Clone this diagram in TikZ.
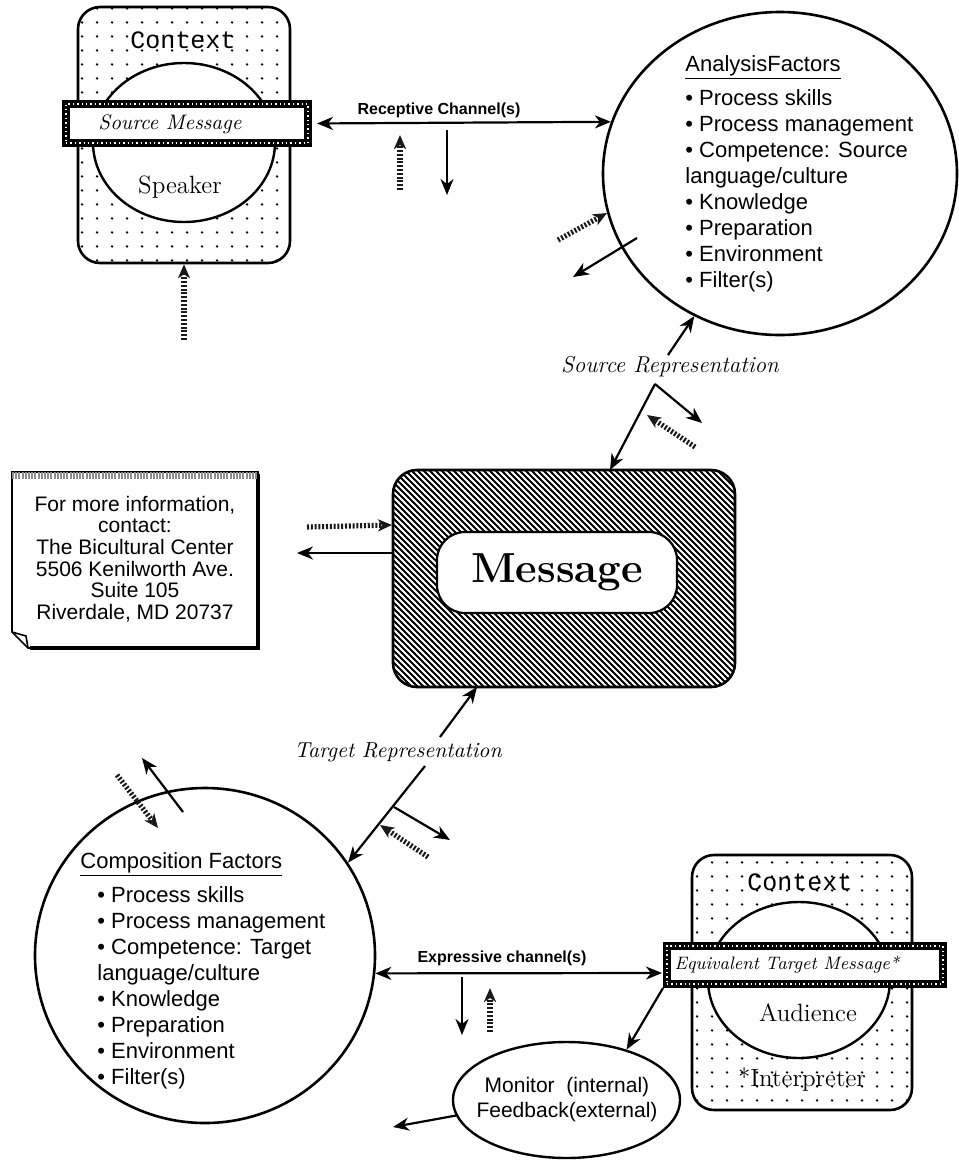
\documentclass[tikz,border=0pt]{standalone}
\usepackage{fontspec}
\newfontfamily\helv{Liberation Sans}
\newfontfamily\cour{Liberation Mono}
\usetikzlibrary{arrows.meta,shapes.geometric,patterns,positioning}

% sparse dot grid for the context boxes
\pgfdeclarepatternformonly{ctxdots}{\pgfqpoint{0pt}{0pt}}{\pgfqpoint{7.5pt}{7pt}}{\pgfqpoint{7.5pt}{7pt}}{%
  \pgfpathcircle{\pgfqpoint{3.75pt}{3.5pt}}{0.7pt}\pgfusepath{fill}}
% heavy hatching for the message box
\pgfdeclarepatternformonly{msghatch}{\pgfqpoint{-1pt}{-1pt}}{\pgfqpoint{4pt}{4pt}}{\pgfqpoint{3pt}{3pt}}{%
  \pgfsetlinewidth{0.9pt}\pgfpathqmoveto{-0.1pt}{3.1pt}\pgfpathqlineto{3.1pt}{-0.1pt}\pgfusepath{stroke}}

\tikzset{
  ctxbox/.style={draw, line width=1.3pt, rounded corners=11pt, pattern=ctxdots},
  actor/.style={ellipse, draw, line width=1.2pt, fill=white, inner sep=0pt},
  banner/.style={draw, line width=4pt, fill=white, inner sep=0pt,
    postaction={draw=white, line width=1pt, dash pattern=on 0.7pt off 1.5pt}},
  factor/.style={ellipse, draw, line width=1.3pt, inner sep=0pt},
  fitem/.style={anchor=base west, inner sep=0pt, font=\helv\fontsize{11}{13}\selectfont},
  ctxlabel/.style={inner sep=0pt, font=\cour\fontsize{12.5}{14}\selectfont},
  who/.style={inner sep=0pt, font=\fontsize{12.5}{14}\selectfont},
  link/.style={line width=1.1pt, -{Stealth[length=8pt,width=6.5pt,inset=2.5pt]}},
  biglink/.style={line width=1.1pt, {Stealth[length=8pt,width=6.5pt,inset=2.5pt]}-{Stealth[length=8pt,width=6.5pt,inset=2.5pt]}},
  hatcharrow/.style={line width=2.6pt, black!90, dash pattern=on 1pt off 0.9pt,
    -{Stealth[length=7pt,width=6pt,inset=2pt]}},
  chanlabel/.style={inner sep=0pt, font=\helv\bfseries\fontsize{8}{9}\selectfont},
  replabel/.style={inner sep=0pt, font=\itshape\fontsize{11.5}{13}\selectfont},
}

\begin{document}
\begin{tikzpicture}[x=0.5pt, y=-0.5pt]
\useasboundingbox (0,0) rectangle (959,1163);

% speaker
\node[ctxbox, minimum width=106pt, minimum height=128pt] (spkbox) at (184,135) {};
\node[ctxlabel] (spkctx) at (183,40) {Context};
\node[actor, minimum width=91pt, minimum height=79.5pt] (spk) at (184,142.5) {};
\node[who] (spklbl) at (180,187) {Speaker};
\node[banner, minimum width=121pt, minimum height=19.5pt] (srcmsg) at (187,123.5) {};
\node[inner sep=0pt, font=\itshape\fontsize{10.5}{12}\selectfont] (srclbl) at (170,124) {Source Message};

% analysis factors
\node[factor, minimum width=177pt, minimum height=161.5pt] (analysis) at (780,173.5) {};
\node[fitem] (an-head) at (685,71) {\underline{AnalysisFactors}};
\foreach \txt [count=\i] in {• Process skills, • Process management, • Competence: Source,
    language/culture, • Knowledge, • Preparation, • Environment, • Filter(s)}
  \node[fitem] (an-\i) at (685,{105+26*(\i-1)}) {\txt};

% message
\node[draw, line width=1.3pt, rounded corners=12pt, pattern=msghatch,
  minimum width=171pt, minimum height=108.5pt] (msg) at (564,578.5) {};
\node[draw, line width=1.1pt, fill=white, rounded corners=14pt, minimum width=120pt,
  minimum height=40.5pt, font=\bfseries\fontsize{21}{25}\selectfont] (msgin) at (557,572.5) {Message};

% note
\draw[line width=0.8pt, fill=white] (12,472) -- (258,472) -- (258,648) -- (28,648) -- (12,632) -- cycle;
\draw[line width=2pt] (258,474) -- (258,648) -- (30,648);
\draw[line width=3.5pt, black!45, dash pattern=on 1pt off 0.6pt] (12,475) -- (258,475);
\draw[line width=0.8pt] (12,632) -- (26,636) -- (28,648);
\node[inner sep=0pt, align=center, font=\helv\fontsize{10.5}{10.8}\selectfont] (info) at (135,559)
  {For more information,\\ contact:\\ The Bicultural Center\\ 5506 Kenilworth Ave.\\ Suite 105\\ Riverdale, MD 20737};

% composition factors
\node[factor, minimum width=170pt, minimum height=167.5pt] (comp) at (205,955.5) {};
\node[fitem] (cm-head) at (80,868) {\underline{Composition Factors}};
\foreach \txt [count=\i] in {• Process skills, • Process management, • Competence: Target,
    language/culture, • Knowledge, • Preparation, • Environment, • Filter(s)}
  \node[fitem] (cm-\i) at (97,{902+26*(\i-1)}) {\txt};

% audience
\node[ctxbox, minimum width=110pt, minimum height=127.5pt] (audbox) at (802,982.5) {};
\node[ctxlabel] (audctx) at (800,882) {Context};
\node[actor, minimum width=91pt, minimum height=78pt] (aud) at (799,980) {};
\node[who] (audlbl) at (808,1013) {Audience};
\node[who] (interp) at (802,1080) {*Interpreter};
\node[banner, minimum width=138pt, minimum height=19pt] (tgtmsg) at (805,965) {};
\node[inner sep=0pt, font=\itshape\fontsize{9}{11}\selectfont] (tgtlbl) at (787,965) {Equivalent Target Message*};

% monitor
\node[ellipse, draw, line width=1.2pt, inner sep=0pt, minimum width=113.5pt, minimum height=58pt] (monitor) at (566.5,1100) {};
\node[inner sep=0pt, align=center, font=\helv\fontsize{10.5}{12.5}\selectfont] (montxt) at (567,1100)
  {Monitor~ (internal)\\Feedback(external)};

% labels
\node[chanlabel] (reclbl) at (439,110) {Receptive Channel(s)};
\node[chanlabel] (explbl) at (502,958) {Expressive channel(s)};
\node[replabel] (srcrep) at (670,367) {Source Representation};
\node[replabel, font=\itshape\fontsize{10.8}{13}\selectfont] (tgtrep) at (398,752) {Target Representation};

% free ends
\coordinate (rcup0) at (400,190); \coordinate (rcup1) at (400,135);
\coordinate (rcdn0) at (447,130); \coordinate (rcdn1) at (447,195);
\coordinate (spkfb) at (184,340);
\coordinate (anfb0) at (558,240); \coordinate (anfb1) at (607,213);
\coordinate (anout0) at (637,238); \coordinate (anout1) at (573,277);
\coordinate (srcup) at (668,355);
\coordinate (srcfork) at (655,384);
\coordinate (srcin) at (610,470);
\coordinate (srcside) at (702,423);
\coordinate (srcfb0) at (695,447); \coordinate (srcfb1) at (647,415);
\coordinate (msgl) at (393,553); \coordinate (msgout) at (297,553);
\coordinate (msgfb0) at (307,527); \coordinate (msgfb1) at (392,525);
\coordinate (tgtup) at (440,737); \coordinate (tgtin) at (477,687);
\coordinate (tgtfork) at (425,766); \coordinate (tgtmid) at (394,807); \coordinate (tgtside) at (450,840);
\coordinate (tgtfb0) at (428,857); \coordinate (tgtfb1) at (380,825);
\coordinate (cmfb0) at (117,775); \coordinate (cmfb1) at (158,828);
\coordinate (cmout0) at (183,812); \coordinate (cmout1) at (142,758);
\coordinate (exr) at (662,973);
\coordinate (exdn0) at (462,977); \coordinate (exdn1) at (462,1035);
\coordinate (exup0) at (490,1032); \coordinate (exup1) at (490,988);
\coordinate (monout) at (393,1127);

% receptive side
\draw[biglink, shorten <=2.5pt] (srcmsg.east) -- (analysis.163);
\draw[hatcharrow] (rcup0) -- (rcup1);
\draw[link, line width=0.8pt] (rcdn0) -- (rcdn1);
\draw[hatcharrow] (spkfb) -- (spkbox.south);
\draw[hatcharrow] (anfb0) -- (anfb1);
\draw[link] (anout0) -- (anout1);

% source representation
\draw[link] (srcup) -- (analysis.239);
\draw[link] (srcfork) -- (srcin);
\draw[link] (srcfork) -- (srcside);
\draw[hatcharrow] (srcfb0) -- (srcfb1);

% message out
\draw[link] (msgl) -- (msgout);
\draw[hatcharrow] (msgfb0) -- (msgfb1);

% target representation
\draw[link] (tgtup) -- (tgtin);
\draw[link] (tgtfork) -- (comp.33);
\draw[link] (tgtmid) -- (tgtside);
\draw[hatcharrow] (tgtfb0) -- (tgtfb1);
\draw[hatcharrow] (cmfb0) -- (cmfb1);
\draw[link] (cmout0) -- (cmout1);

% expressive side
\draw[biglink] (comp.354) -- (exr);
\draw[link, line width=0.8pt] (exdn0) -- (exdn1);
\draw[hatcharrow] (exup0) -- (exup1);
\draw[link] (tgtmsg.south west) -- (monitor.40);
\draw[link] (monitor.188) -- (monout);
\end{tikzpicture}
\end{document}
